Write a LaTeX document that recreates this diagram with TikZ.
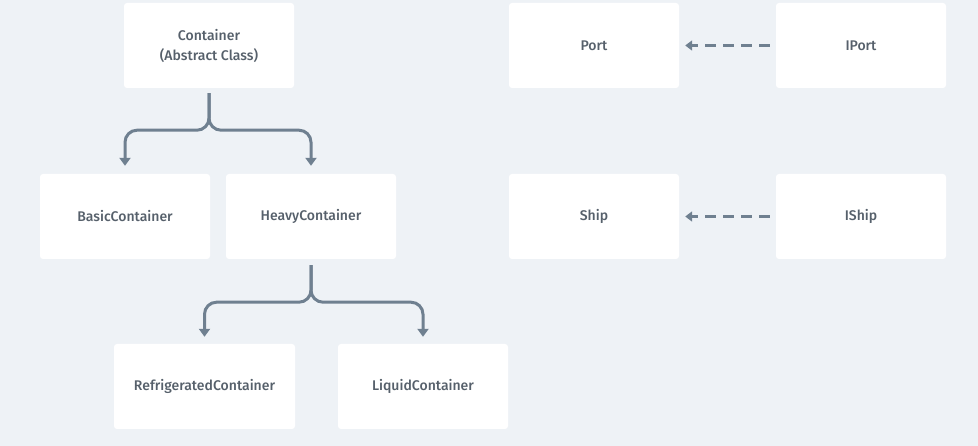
\documentclass[tikz,border=0pt]{standalone}
\usepackage{fontspec}
\setmainfont{Fira Sans}[UprightFont=* Medium]
\usetikzlibrary{arrows.meta}
\definecolor{bgc}{HTML}{EEF2F6}
\definecolor{linec}{HTML}{6F8090}
\definecolor{txtc}{HTML}{56606B}
\tikzset{
  box/.style={fill=white, rounded corners=3pt, minimum width=170pt, minimum height=85pt,
    inner sep=0pt, text=txtc, font=\fontsize{14}{20}\selectfont, align=center},
  conn/.style={draw=linec, line width=3pt, rounded corners=12pt,
    -{Triangle[width=11pt,length=8pt]}},
  dconn/.style={draw=linec, line width=3pt, dash pattern=on 11pt off 7pt,
    -{Triangle[width=10pt,length=7pt]}}
}
\begin{document}
\begin{tikzpicture}[x=1pt,y=-1pt]
\fill[bgc] (0,0) rectangle (978,446);
\useasboundingbox (0,0) rectangle (978,446);
\node[box] (c) at (209,45.5) {Container\\(Abstract Class)};
\node[box] (b) at (125,216.5) {BasicContainer};
\node[box] (h) at (311,216.5) {HeavyContainer};
\node[box, minimum width=181pt] (r) at (204.5,386.5) {RefrigeratedContainer};
\node[box] (l) at (423,386.5) {LiquidContainer};
\node[box] (p) at (594,45.5) {Port};
\node[box] (ip) at (861,45.5) {IPort};
\node[box] (s) at (594,216.5) {Ship};
\node[box] (is) at (861,216.5) {IShip};
\draw[conn] ([yshift=-5pt]c.south) -- ++(0,37) -| ([yshift=8pt]b.north);
\draw[conn] ([yshift=-5pt]c.south) -- ++(0,37) -| ([yshift=8pt]h.north);
\draw[conn] ([yshift=-6pt]h.south) -- ++(0,37) -| ([yshift=7pt]r.north);
\draw[conn] ([yshift=-6pt]h.south) -- ++(0,37) -| ([yshift=7pt]l.north);
\draw[dconn] ([xshift=-6pt]ip.west) -- ([xshift=6pt]p.east);
\draw[dconn] ([xshift=-6pt]is.west) -- ([xshift=6pt]s.east);
\end{tikzpicture}
\end{document}
